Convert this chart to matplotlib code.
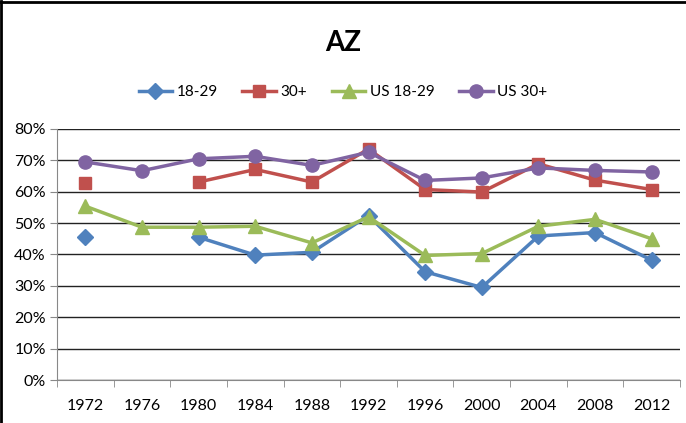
import numpy as np
import matplotlib.pyplot as plt
from matplotlib.lines import Line2D
from matplotlib.ticker import FuncFormatter, FixedLocator

plt.rcParams['font.family'] = ['Lato', 'DejaVu Sans']

years = ["1972", "1976", "1980", "1984", "1988", "1992", "1996", "2000", "2004", "2008", "2012"]
az_18_29 = [45.7, np.nan, 45.5, 39.8, 40.7, 52.4, 34.5, 29.5, 45.9, 47.0, 38.2]
az_30 = [62.9, np.nan, 63.1, 67.1, 63.1, 73.6, 60.7, 59.9, 68.9, 63.7, 60.7]
us_18_29 = [55.4, 48.7, 48.7, 49.0, 43.7, 52.0, 39.7, 40.3, 49.0, 51.2, 45.0]
us_30 = [69.5, 66.7, 70.5, 71.3, 68.4, 72.6, 63.6, 64.4, 67.6, 66.8, 66.3]

fig = plt.figure(figsize=(6.86, 4.23), dpi=100)
ax = fig.add_axes([57 / 686, 1 - 380 / 423, 623 / 686, 251 / 423])

x = np.arange(len(years))
series = [
    ("18-29", az_18_29, "#4F81BD", "D", 8),
    ("30+", az_30, "#C0504D", "s", 8.5),
    ("US 18-29", us_18_29, "#9BBB59", "^", 10),
    ("US 30+", us_30, "#8064A2", "o", 9.5),
]
for label, vals, col, mk, ms in series:
    ax.plot(x, vals, color=col, marker=mk, markersize=ms, linewidth=2.5,
            label=label, markeredgecolor=col)

ax.set_ylim(0, 80)
ax.set_xlim(-0.5, len(years) - 0.5)
ax.set_yticks(np.arange(0, 81, 10))
ax.yaxis.set_major_formatter(FuncFormatter(lambda v, p: f"{int(v)}%"))
ax.grid(axis="y", color="#222222", linewidth=1)
ax.set_axisbelow(True)

ax.set_xticks(x)
ax.set_xticklabels(years)
ax.xaxis.set_minor_locator(FixedLocator(np.arange(-0.5, len(years), 1)))
ax.tick_params(axis="x", which="major", length=0, pad=14, labelsize=11.5)
ax.tick_params(axis="x", which="minor", length=5, color="#888888", direction="out")
ax.tick_params(axis="y", length=5, color="#888888", labelsize=11.5, pad=3)

for s in ["top", "right"]:
    ax.spines[s].set_visible(False)
for s in ["left", "bottom"]:
    ax.spines[s].set_color("#888888")

fig.text(0.5, 1 - 43 / 423, "AZ", ha="center", va="center", fontsize=20, fontweight="bold")
fig.legend(loc="center", bbox_to_anchor=(0.5, 1 - 92 / 423), ncol=4, frameon=False,
           fontsize=11, handlelength=2.2, columnspacing=1.6, handletextpad=0.3)

fig.add_artist(Line2D([0.002, 0.002], [0, 0.998], transform=fig.transFigure, color="black", linewidth=2))
fig.add_artist(Line2D([0, 1], [0.996, 0.996], transform=fig.transFigure, color="black", linewidth=2))

fig.savefig("out.png", dpi=100)
